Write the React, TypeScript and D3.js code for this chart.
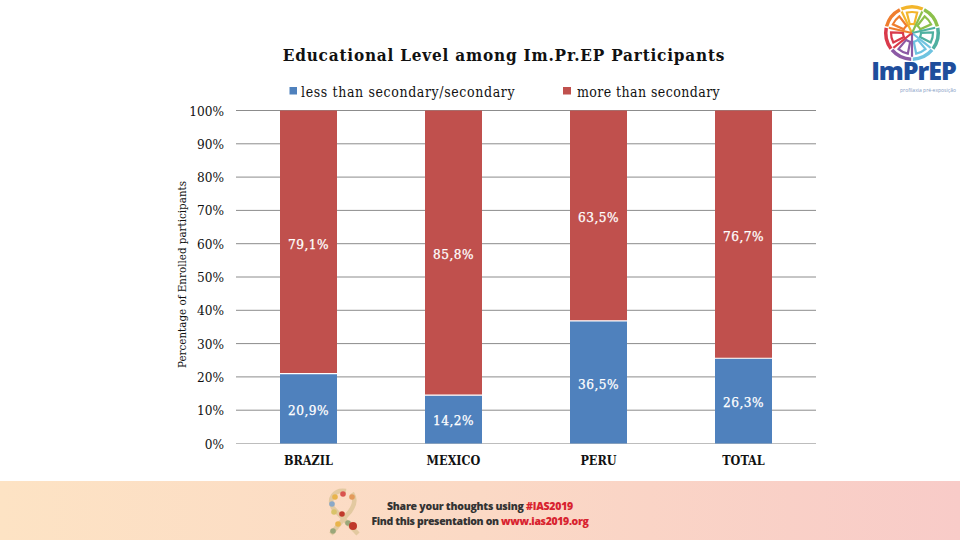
import React from "react";
import * as d3 from "d3";

const categories = ["BRAZIL", "MEXICO", "PERU", "TOTAL"];
const lessValues = [21.0, 14.5, 36.8, 25.6];
const moreValues = [79.0, 85.5, 63.2, 74.4];
const lessLabels = ["20,9%", "14,2%", "36,5%", "26,3%"];
const moreLabels = ["79,1%", "85,8%", "63,5%", "76,7%"];
const lessLabelAt = [10.2, 7, 18, 12.5];
const moreLabelAt = [60, 57, 68, 62.3];
const ticks = [0, 10, 20, 30, 40, 50, 60, 70, 80, 90, 100];
const legendNames = ["less than secondary/secondary", "more than secondary"];
const BLUE = "#4f81bd";
const RED = "#c0504d";
const SERIF = "'DejaVu Serif Condensed', 'DejaVu Serif', serif";

const petalColors = ["#f3b52b", "#8cc04b", "#4fb0a0", "#6fc3e0", "#8c5aa5", "#d93a4b", "#ef7d2e"];

function Logo() {
  const cx = 912, cy = 33, r = 28;
  const arc = d3.arc();
  const n = petalColors.length;
  return (
    <g>
      {petalColors.map((c, i) => {
        const a0 = (i / n) * 2 * Math.PI - Math.PI / 7;
        const a1 = ((i + 1) / n) * 2 * Math.PI - Math.PI / 7;
        return (
          <g key={c}>
            <path transform={`translate(${cx},${cy})`} d={arc({ innerRadius: r - 3.5, outerRadius: r, startAngle: a0 + 0.03, endAngle: a1 - 0.03 }) as string} fill={c} />
            <path transform={`translate(${cx},${cy})`} d={arc({ innerRadius: 9, outerRadius: r - 7, startAngle: a0 + 0.2, endAngle: a1 - 0.2, cornerRadius: 4 }) as string} fill="none" stroke={c} strokeWidth={2.2} />
            <line x1={cx} y1={cy} x2={cx + r * 0.85 * Math.sin(a0)} y2={cy - r * 0.85 * Math.cos(a0)} stroke={c} strokeWidth={2.2} />
          </g>
        );
      })}
      <text x={913.5} y={80} textAnchor="middle" fontFamily="'Open Sans', sans-serif" fontWeight={800} fontSize={25} letterSpacing={-1} fill="#1f4e9c">ImPrEP</text>
      <text x={928} y={91.8} textAnchor="middle" fontFamily="'Open Sans', sans-serif" fontSize={5} fill="#7f9bc4">profilaxia pré-exposição</text>
    </g>
  );
}

const ribbonColors = ["#d9534f", "#e9b44c", "#8aa8c8", "#d9c36a", "#c0392b", "#e39a5c", "#9aa77a", "#c0392b", "#e9b44c", "#9aa77a"];
const ribbonPts: [number, number][] = [[343, 494], [335, 497], [332, 504], [334, 512], [342, 514], [352, 497], [348, 523], [353, 526], [338, 524], [333, 531]];

function Banner() {
  return (
    <g>
      <rect x={0} y={481} width={960} height={59} fill="url(#bannerGrad)" />
      <path d="M346 491 C334 489 328 499 333 508 L358 534 M352 493 C358 502 352 510 346 516 L331 534" fill="none" stroke="#e3c9a0" strokeWidth={4.5} />
      {ribbonPts.map(([x, y], i) => <circle key={i} cx={x} cy={y} r={i === 7 ? 4 : 2.8} fill={ribbonColors[i]} />)}
      <text x={480} y={510} textAnchor="middle" fontFamily="'Open Sans', sans-serif" fontWeight={800} fontSize={10.5} letterSpacing={-0.25} fill="#333">
        Share your thoughts using <tspan fill="#d8232f">#IAS2019</tspan>
      </text>
      <text x={480} y={525} textAnchor="middle" fontFamily="'Open Sans', sans-serif" fontWeight={800} fontSize={10.5} letterSpacing={-0.35} fill="#333">
        Find this presentation on <tspan fill="#d8232f">www.ias2019.org</tspan>
      </text>
    </g>
  );
}

export default function App() {
  const x = d3.scaleBand().domain(categories).range([236, 816]).paddingInner(0.607).paddingOuter(0.3035);
  const y = d3.scaleLinear().domain([0, 100]).range([443.5, 110.5]);
  const stack = d3.stack<number>().keys(["less", "more"]).value((i, k) => (k === "less" ? lessValues[i] : moreValues[i]));
  const series = stack(categories.map((_, i) => i));
  const colors = [BLUE, RED];
  const labelStyle = { fontFamily: SERIF, fontWeight: 400, fontSize: 13.5, letterSpacing: 0.5, fill: "#fff", stroke: "#fff", strokeWidth: 0.25 };
  return (
    <svg width={960} height={540} style={{ position: "absolute", left: 0, top: 0, background: "#fff" }}>
      <defs>
        <linearGradient id="bannerGrad" x1="0" x2="1" y1="0" y2="0">
          <stop offset="0" stopColor="#fde3c4" />
          <stop offset="0.5" stopColor="#fbd9c5" />
          <stop offset="1" stopColor="#f8cbc8" />
        </linearGradient>
      </defs>
      <text x={504} y={61} textAnchor="middle" fontFamily={SERIF} fontWeight={700} fontSize={17} letterSpacing={0.8} fill="#111">Educational Level among Im.Pr.EP Participants</text>

      <rect x={289.5} y={87} width={7.5} height={7.5} fill={BLUE} />
      <text x={301} y={97} fontFamily={SERIF} fontSize={14} letterSpacing={0.62} fill="#111">{legendNames[0]}</text>
      <rect x={563} y={87} width={8} height={7.5} fill={RED} />
      <text x={577} y={97} fontFamily={SERIF} fontSize={14} letterSpacing={0.42} fill="#111">{legendNames[1]}</text>

      <text transform="translate(186,274.5) rotate(-90)" textAnchor="middle" fontFamily={SERIF} fontSize={11.5} fill="#111">Percentage of Enrolled participants</text>

      {ticks.map((t) => (
        <g key={t}>
          <line x1={236} x2={816} y1={y(t)} y2={y(t)} stroke={t === 0 ? "#bdbdbd" : "#8c8c8c"} strokeWidth={1} />
          <text x={224} y={y(t) + 5} textAnchor="end" fontFamily={SERIF} fontSize={13.5} fill="#111">{t}%</text>
        </g>
      ))}

      {series.map((s, si) => (
        <g key={si}>
          {s.map((d, i) => (
            <rect key={i} x={x(categories[i])} width={x.bandwidth()} y={y(d[1])} height={y(d[0]) - y(d[1])} fill={colors[si]} />
          ))}
        </g>
      ))}
      {categories.map((c, i) => (
        <line key={c} x1={x(c)} x2={(x(c) as number) + x.bandwidth()} y1={y(lessValues[i])} y2={y(lessValues[i])} stroke="#fff" strokeWidth={1.2} />
      ))}

      {categories.map((c, i) => {
        const cx = (x(c) as number) + x.bandwidth() / 2;
        return (
          <g key={c}>
            <text x={cx} y={y(lessLabelAt[i]) + 5} textAnchor="middle" {...labelStyle}>{lessLabels[i]}</text>
            <text x={cx} y={y(moreLabelAt[i]) + 5} textAnchor="middle" {...labelStyle}>{moreLabels[i]}</text>
            <text x={cx} y={465} textAnchor="middle" fontFamily={SERIF} fontWeight={700} fontSize={12.5} fill="#111">{c}</text>
          </g>
        );
      })}
      <Logo />
      <Banner />
    </svg>
  );
}
